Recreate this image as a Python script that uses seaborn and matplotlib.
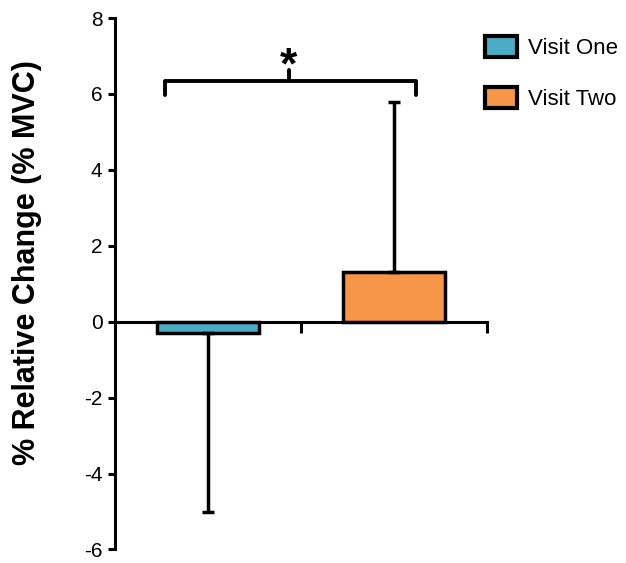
import matplotlib
matplotlib.use("Agg")
import matplotlib.pyplot as plt
import seaborn as sns
import pandas as pd
from matplotlib.patches import Patch

visits = ["Visit One", "Visit Two"]
means = [-0.3, 1.3]
err_low = [4.7, 0.0]
err_high = [0.0, 4.5]
colors = ["#4BACC6", "#F79646"]
yticks = [-6, -4, -2, 0, 2, 4, 6, 8]

sns.set_style("white")
plt.rcParams['font.family'] = ['Liberation Sans', 'DejaVu Sans']
plt.rcParams['text.color'] = 'black'
plt.rcParams['axes.labelcolor'] = 'black'
plt.rcParams['xtick.color'] = 'black'
plt.rcParams['ytick.color'] = 'black'
plt.rcParams['axes.edgecolor'] = 'black'

df = pd.DataFrame({"visit": visits, "mean": means})

fig = plt.figure(figsize=(6.26, 5.63), dpi=100)
ax = fig.add_axes([0.1837, 0.024, 0.594, 0.944])

sns.barplot(data=df, x="visit", y="mean", hue="visit", palette=colors,
            saturation=1, width=0.55, edgecolor="black", linewidth=2.5,
            legend=False, ax=ax)

ax.errorbar(range(len(visits)), means, yerr=[err_low, err_high], fmt="none",
            ecolor="black", elinewidth=2.5, capsize=4, capthick=2.5, zorder=1)

ax.set_ylim(-6, 8)
ax.set_xlim(-0.5, 1.5)
ax.set_yticks(yticks)
ax.set_yticklabels([str(t) for t in yticks], fontsize=15)
ax.set_xticks([0.5, 1.5])
ax.set_xticklabels([])
ax.set_xlabel("")
ax.set_ylabel("% Relative Change (% MVC)", fontsize=22, fontweight="bold")
ax.yaxis.set_label_coords(-0.195, 0.54)

for s in ["top", "right"]:
    ax.spines[s].set_visible(False)
ax.spines["bottom"].set_position(("data", 0))
ax.spines["bottom"].set_linewidth(2.2)
ax.spines["left"].set_linewidth(2.2)
ax.tick_params(axis="y", direction="out", length=5, width=2.2, pad=4, left=True)
ax.tick_params(axis="x", direction="out", length=8, width=2.2, bottom=True)

# significance bracket
bx0, bx1, bmid = -0.23, 1.12, 0.435
by, bdrop, bup = 6.33, 5.98, 6.62
ax.plot([bx0, bx0, bx1, bx1], [bdrop, by, by, bdrop], color="black", lw=2.8,
        solid_joinstyle="round", clip_on=False)
ax.plot([bmid, bmid], [by, bup], color="black", lw=2.8, clip_on=False)
ax.text(bmid, 6.4, "*", ha="center", va="baseline", fontsize=32, fontweight="bold")

handles = [Patch(facecolor=c, edgecolor="black", linewidth=3, label=v)
           for c, v in zip(colors, visits)]
fig.legend(handles=handles, loc="upper left", bbox_to_anchor=(0.76, 0.952),
           frameon=False, fontsize=16, handlelength=1.45, handleheight=1.1,
           labelspacing=1.25, handletextpad=0.5, borderaxespad=0)

fig.savefig("out.png", dpi=100)
